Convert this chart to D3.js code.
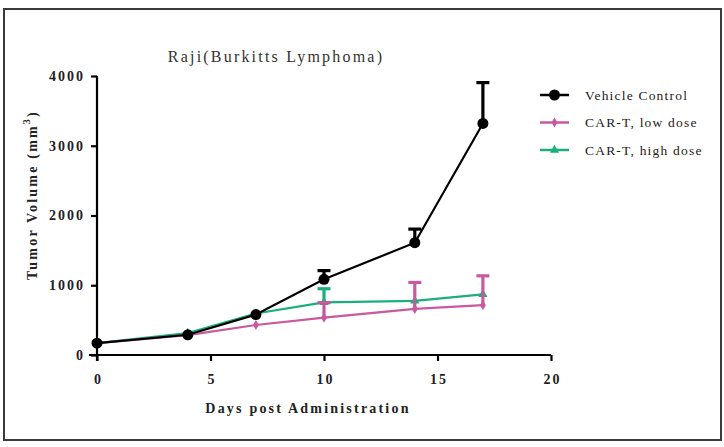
<!DOCTYPE html>
<html><head><meta charset="utf-8">
<script src="https://cdn.jsdelivr.net/npm/d3@7"></script>
<style>html,body{margin:0;padding:0;background:#fff;}svg{display:block;}</style>
</head><body>
<svg id="c" width="724" height="447"></svg>
<script>
const days = [0, 4, 7, 10, 14, 17];
const seriesNames = ["Vehicle Control", "CAR-T, low dose", "CAR-T, high dose"];
const vehicleMean = [170, 290, 580, 1085, 1610, 3320];
const vehicleErr  = [0, 0, 0, 125, 195, 585];
const lowMean     = [170, 285, 430, 535, 660, 715];
const lowErr      = [0, 0, 0, 215, 380, 420];
const highMean    = [170, 315, 595, 755, 775, 870];
const highErr     = [0, 0, 0, 195, 0, 0];
const xTicks = [0, 5, 10, 15, 20];
const yTicks = [0, 1000, 2000, 3000, 4000];
const colors = ["#000000", "#c9589f", "#19b07a"];

const series = [
  {name: seriesNames[0], mean: vehicleMean, err: vehicleErr, color: colors[0], shape: "circle"},
  {name: seriesNames[1], mean: lowMean, err: lowErr, color: colors[1], shape: "diamond"},
  {name: seriesNames[2], mean: highMean, err: highErr, color: colors[2], shape: "triangle"}
];

const svg = d3.select("#c");
const x = d3.scaleLinear().domain([0, 20]).range([97, 551]);
const y = d3.scaleLinear().domain([0, 4000]).range([355, 76]);
const serif = "'Liberation Serif','Times New Roman',serif";

// frame
svg.append("rect").attr("x", 4).attr("y", 9).attr("width", 717).attr("height", 431)
  .attr("fill", "none").attr("stroke", "#3a3a3a").attr("stroke-width", 2);

// axes
const xAxis = svg.append("g").attr("transform", "translate(0,355)")
  .call(d3.axisBottom(x).tickValues(xTicks).tickSize(6).tickFormat(d3.format("d")));
const yAxis = svg.append("g").attr("transform", "translate(97,0)")
  .call(d3.axisLeft(y).tickValues(yTicks).tickSize(6).tickFormat(d3.format("d")));
[xAxis, yAxis].forEach(g => {
  g.select(".domain").attr("stroke", "#000").attr("stroke-width", 2.2);
  g.selectAll(".tick line").attr("stroke", "#000").attr("stroke-width", 2.2);
  g.selectAll("text").attr("font-family", serif).attr("font-weight", "bold")
    .attr("font-size", 14).attr("fill", "#222").attr("letter-spacing", 2);
});
xAxis.select(".domain").attr("d", `M${x(0)-8},0H${x(20)}`);
yAxis.select(".domain").attr("d", `M0,${y(4000)}V${y(0)+6}`);
xAxis.selectAll(".tick text").attr("dy", "1.45em").attr("dx", 1);
yAxis.selectAll(".tick text").attr("x", -12);

const line = d3.line().x((d, i) => x(days[i])).y(d => y(d));

function marker(g, shape, color, cx, cy, s) {
  if (shape === "circle") {
    g.append("circle").attr("cx", cx).attr("cy", cy).attr("r", 5.5*s).attr("fill", color);
  } else if (shape === "diamond") {
    g.append("path").attr("d", d3.symbol(d3.symbolDiamond, 30*s*s)()).attr("transform", `translate(${cx},${cy})`).attr("fill", color);
  } else {
    g.append("path").attr("d", d3.symbol(d3.symbolTriangle, 36*s*s)()).attr("transform", `translate(${cx},${cy})`).attr("fill", color);
  }
}

// draw in order: high, low, vehicle on top
[2, 1, 0].forEach(k => {
  const s = series[k];
  const g = svg.append("g");
  s.mean.forEach((m, i) => {
    if (s.err[i] > 0) {
      const xx = x(days[i]);
      g.append("line").attr("x1", xx).attr("x2", xx).attr("y1", y(m)).attr("y2", y(m + s.err[i]))
        .attr("stroke", s.color).attr("stroke-width", 3.2);
      g.append("line").attr("x1", xx - 6.5).attr("x2", xx + 6.5).attr("y1", y(m + s.err[i])).attr("y2", y(m + s.err[i]))
        .attr("stroke", s.color).attr("stroke-width", 3.2);
    }
  });
  g.append("path").attr("d", line(s.mean)).attr("fill", "none").attr("stroke", s.color).attr("stroke-width", 2.2);
  s.mean.forEach((m, i) => marker(g, s.shape, s.color, x(days[i]), y(m), 1));
});

// title
svg.append("text").attr("x", 276).attr("y", 62).attr("text-anchor", "middle")
  .attr("font-family", serif).attr("font-size", 16).attr("fill", "#333").attr("letter-spacing", 2.2)
  .text("Raji(Burkitts Lymphoma)");

// axis titles
svg.append("text").attr("x", 308).attr("y", 413).attr("text-anchor", "middle")
  .attr("font-family", serif).attr("font-weight", "bold").attr("font-size", 14).attr("fill", "#222")
  .attr("letter-spacing", 2.2).text("Days post Administration");
const yl = svg.append("text").attr("transform", "translate(37,195) rotate(-90)").attr("text-anchor", "middle")
  .attr("font-family", serif).attr("font-weight", "bold").attr("font-size", 14).attr("fill", "#222")
  .attr("letter-spacing", 2.2);
yl.append("tspan").text("Tumor Volume (mm");
yl.append("tspan").attr("dy", -7).attr("font-size", 10).text("3");
yl.append("tspan").attr("dy", 7).text(")");

// legend
series.forEach((s, k) => {
  const ly = 95 + k * 27.5;
  const g = svg.append("g");
  g.append("line").attr("x1", 540).attr("x2", 569).attr("y1", ly).attr("y2", ly)
    .attr("stroke", s.color).attr("stroke-width", 2.5);
  marker(g, s.shape, s.color, 554.5, ly, 1);
  g.append("text").attr("x", 585).attr("y", ly + 4.5).attr("font-family", serif)
    .attr("font-size", 13.5).attr("fill", "#222").attr("letter-spacing", 1.2).text(s.name);
});
</script>
</body></html>
